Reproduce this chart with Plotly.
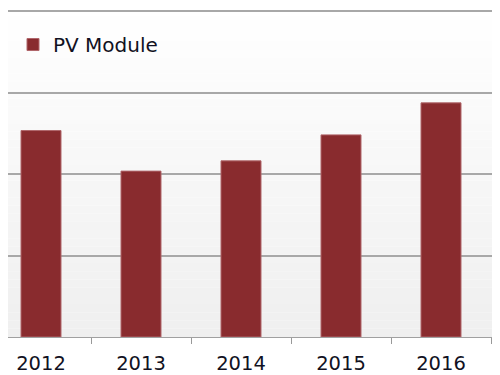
import plotly.graph_objects as go

years = ["2012", "2013", "2014", "2015", "2016"]
pv_module = [2.535, 2.037, 2.163, 2.482, 2.875]
series_name = "PV Module"

bar_color = "#892b2e"
font_family = "DejaVu Sans, Verdana, sans-serif"
text_color = "#111122"

fig = go.Figure()
fig.add_trace(go.Bar(
    x=years, y=pv_module, name=series_name, width=0.4,
    marker=dict(color=bar_color, line=dict(color="#b0666a", width=1)),
    showlegend=True,
))

# vertical gradient background of the plot area (white at top -> light grey at bottom)
ytop = 4.04
n = 40
shapes = []
for i in range(n):
    y0 = ytop * i / n
    y1 = ytop * (i + 1) / n
    frac = (i + 0.5) / n  # 0 bottom, 1 top
    c = int(round(239 + (255 - 239) * frac))
    shapes.append(dict(type="rect", xref="paper", yref="y", x0=0, x1=1, y0=y0, y1=y1,
                       fillcolor=f"rgb({c},{c},{c})", line=dict(width=0), layer="below"))

fig.update_layout(
    width=500, height=375,
    margin=dict(l=0, r=0, t=0, b=45.7, pad=0),
    paper_bgcolor="white", plot_bgcolor="white",
    shapes=shapes,
    showlegend=True,
    legend=dict(x=0.01, xanchor="left", y=0.889, yanchor="middle",
                bgcolor="rgba(0,0,0,0)", font=dict(family=font_family, size=20, color=text_color)),
    font=dict(family=font_family, size=20, color=text_color),
    xaxis=dict(type="category", range=[-0.33, 4.67], tickson="boundaries",
               ticks="outside", ticklen=6, tickcolor="#999999", tickwidth=1,
               showline=True, linecolor="#a0a0a0", linewidth=1,
               showgrid=False, zeroline=False, ticklabelstandoff=9,
               tickfont=dict(family=font_family, size=19.5, color=text_color)),
    yaxis=dict(range=[0, ytop], dtick=1, showticklabels=False, ticks="",
               showgrid=True, gridcolor="#a8a8a8", gridwidth=2,
               zeroline=False, showline=False),
    bargap=0.6,
)

fig.write_html("out.html")
